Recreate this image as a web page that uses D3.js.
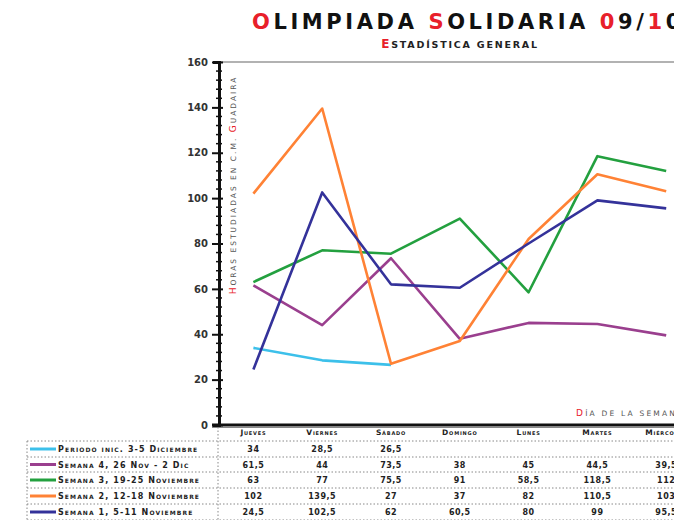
<!DOCTYPE html>
<html><head><meta charset="utf-8">
<script src="https://cdn.jsdelivr.net/npm/d3@7/dist/d3.min.js"></script>
<style>
body{margin:0;background:#fff;}
svg{display:block;font-family:"DejaVu Sans",sans-serif;}
</style></head><body>
<svg id="c" width="674" height="520"></svg>
<script>
const days = ["Jueves","Viernes","Sábado","Domingo","Lunes","Martes","Miércoles"];
const seriesNames = ["Periodo inic. 3-5 Diciembre","Semana 4, 26 Nov - 2 Dic","Semana 3, 19-25 Noviembre","Semana 2, 12-18 Noviembre","Semana 1, 5-11 Noviembre"];
const seriesColors = ["#3cc0ea","#9a3f8e","#23a03f","#ff8235","#34329a"];
const periodoInicial = [34, 28.5, 26.5, null, null, null, null];
const semana4 = [61.5, 44, 73.5, 38, 45, 44.5, 39.5];
const semana3 = [63, 77, 75.5, 91, 58.5, 118.5, 112];
const semana2 = [102, 139.5, 27, 37, 82, 110.5, 103];
const semana1 = [24.5, 102.5, 62, 60.5, 80, 99, 95.5];
const seriesValues = [periodoInicial, semana4, semana3, semana2, semana1];
const yTicks = [0,20,40,60,80,100,120,140,160];

const svg = d3.select("#c");
const x = d3.scaleBand().domain(days).range([219, 219 + 7*68.8]).padding(0);
const y = d3.scaleLinear().domain([0,160]).range([425, 62]);

// title
const t = svg.append("text").attr("x",252).attr("y",29).attr("font-size",21).attr("font-weight","bold").attr("letter-spacing",3.6).attr("fill","#111");
const titleParts = [["O","#e8202a"],["LIMPIADA ","#111"],["S","#e8202a"],["OLIDARIA ","#111"],["0","#e8202a"],["9/","#111"],["1","#e8202a"],["0","#111"]];
titleParts.forEach(p=>t.append("tspan").attr("fill",p[1]).text(p[0]));
const st = svg.append("text").attr("x",460).attr("y",48).attr("text-anchor","middle").attr("font-size",12).attr("font-weight","bold").attr("letter-spacing",1.8);
st.append("tspan").attr("fill","#e8202a").text("E");
st.append("tspan").attr("fill","#222").attr("font-size",9.5).text("STADÍSTICA GENERAL");

// top border line
svg.append("line").attr("x1",219).attr("x2",674).attr("y1",y(160)).attr("y2",y(160)).attr("stroke","#999").attr("stroke-width",1.5);

// minor ticks
const minor = d3.range(0,161,4).filter(v=>v%20!==0);
svg.append("g").selectAll("line").data(minor).join("line")
  .attr("x1",216).attr("x2",222).attr("y1",d=>y(d)).attr("y2",d=>y(d)).attr("stroke","#111").attr("stroke-width",1.5);

// y axis
const ya = svg.append("g").attr("transform","translate(219,0)")
  .call(d3.axisLeft(y).tickValues(yTicks).tickSize(6).tickPadding(5));
ya.select(".domain").attr("stroke","#111").attr("stroke-width",3);
ya.selectAll(".tick line").attr("x2",-7).attr("x1",4).attr("stroke","#111").attr("stroke-width",2);
ya.selectAll(".tick text").attr("font-size",10).attr("font-weight","bold").attr("fill","#333").attr("font-family","DejaVu Sans");

// bottom axis line
svg.append("line").attr("x1",212).attr("x2",674).attr("y1",425).attr("y2",425).attr("stroke","#111").attr("stroke-width",3);
svg.append("line").attr("x1",212).attr("x2",674).attr("y1",427.5).attr("y2",427.5).attr("stroke","#888").attr("stroke-width",1);

// y axis title
const yt = svg.append("text").attr("transform","translate(236,185) rotate(-90)").attr("text-anchor","middle").attr("font-size",7.5).attr("letter-spacing",2).attr("fill","#555");
yt.append("tspan").attr("fill","#e8202a").attr("font-size",9).text("H");
yt.append("tspan").text("ORAS ESTUDIADAS EN C.M. ");
yt.append("tspan").attr("fill","#e8202a").attr("font-size",9).text("G");
yt.append("tspan").text("UADAIRA");

// x axis title
const xt = svg.append("text").attr("x",576).attr("y",416).attr("font-size",7.5).attr("letter-spacing",2.2).attr("fill","#555");
xt.append("tspan").attr("fill","#e8202a").attr("font-size",9).text("D");
xt.append("tspan").text("ÍA DE LA SEMANA");

// lines
const line = d3.line().defined(d=>d!=null).x((d,i)=>x(days[i])+x.bandwidth()/2).y(d=>y(d));
seriesValues.forEach((vals,k)=>{
  svg.append("path").datum(vals).attr("d",line).attr("fill","none").attr("stroke",seriesColors[k]).attr("stroke-width",2.6).attr("stroke-linejoin","round");
});

// table
const rowY = [441,457,472,488,504,520];
const g = svg.append("g");
rowY.forEach(r=>g.append("line").attr("x1",27).attr("x2",674).attr("y1",r).attr("y2",r).attr("stroke","#888").attr("stroke-width",1).attr("stroke-dasharray","1.5,2"));
g.append("line").attr("x1",27).attr("x2",27).attr("y1",441).attr("y2",520).attr("stroke","#888").attr("stroke-dasharray","1.5,2");
g.append("line").attr("x1",218).attr("x2",218).attr("y1",427).attr("y2",520).attr("stroke","#888").attr("stroke-dasharray","1.5,2");

svg.append("g").selectAll("text").data(days).join("text")
  .attr("x",d=>x(d)+x.bandwidth()/2).attr("y",435).attr("text-anchor","middle")
  .attr("font-size",7.5).attr("font-weight","bold").attr("fill","#222").attr("letter-spacing",0.8).style("font-variant","small-caps").text(d=>d);

const fmt = v => (Number.isInteger(v)? String(v) : String(v).replace(".",","));
seriesValues.forEach((vals,k)=>{
  const cy = (rowY[k]+rowY[k+1])/2 + 3;
  svg.append("line").attr("x1",30).attr("x2",56).attr("y1",cy-3).attr("y2",cy-3).attr("stroke",seriesColors[k]).attr("stroke-width",3);
  svg.append("text").attr("x",58).attr("y",cy).attr("font-size",8).attr("font-weight","bold").attr("fill","#222").style("font-variant","small-caps").attr("letter-spacing",1.1).text(seriesNames[k]);
  svg.append("g").selectAll("text").data(vals.map((v,i)=>({v,i})).filter(d=>d.v!=null)).join("text")
    .attr("x",d=>x(days[d.i])+x.bandwidth()/2).attr("y",cy).attr("text-anchor","middle")
    .attr("font-size",8).attr("font-weight","bold").attr("fill","#222").attr("letter-spacing",0.5).text(d=>fmt(d.v));
});
</script></body></html>
